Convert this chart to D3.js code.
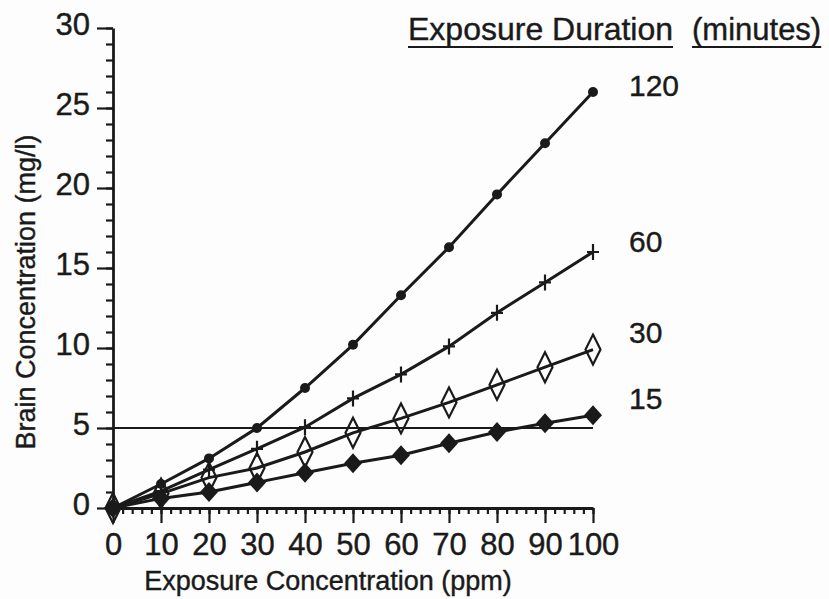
<!DOCTYPE html>
<html>
<head>
<meta charset="utf-8">
<script src="https://cdn.jsdelivr.net/npm/d3@7"></script>
<style>
  body { margin: 0; background: #fdfdfd; }
  svg { display: block; font-family: "Liberation Sans", Arial, Helvetica, sans-serif; }
  svg text { stroke: #1a1a1a; stroke-width: 0.4px; }
  .axis path, .axis line { stroke: #1a1a1a; }
  .axis text { fill: #1a1a1a; }
</style>
</head>
<body>
<div id="chart"></div>
<script>
// exposure concentration (ppm)
var concentrations = [0, 10, 20, 30, 40, 50, 60, 70, 80, 90, 100];
// exposure durations (minutes)
var durations = ["120", "60", "30", "15"];
// brain concentration (mg/l) per duration
var brain120 = [0, 1.5, 3.1, 5.0, 7.5, 10.2, 13.3, 16.3, 19.6, 22.8, 26.0];
var brain60 = [0, 1.05, 2.4, 3.7, 5.05, 6.85, 8.35, 10.1, 12.2, 14.1, 16.0];
var brain30 = [0, 0.9, 1.9, 2.5, 3.5, 4.7, 5.6, 6.6, 7.7, 8.8, 9.9];
var brain15 = [0, 0.6, 1.0, 1.6, 2.2, 2.8, 3.3, 4.05, 4.75, 5.3, 5.8];
var threshold = 5;
var xTicks = [0, 10, 20, 30, 40, 50, 60, 70, 80, 90, 100];
var yTicks = [0, 5, 10, 15, 20, 25, 30];

var width = 829, height = 599;
var ink = "#1a1a1a";

var svg = d3.select("#chart").append("svg")
	.attr("width", width)
	.attr("height", height);

var x = d3.scaleLinear().domain([0, 100]).range([113, 593]);
var y = d3.scaleLinear().domain([0, 30]).range([508, 28]);

// minor ticks first
svg.append("g")
	.attr("class", "axis")
	.attr("transform", "translate(0," + y(0) + ")")
	.call(d3.axisBottom(x).tickValues(d3.range(0, 101, 2)).tickSize(6).tickSizeOuter(0).tickFormat(""))
	.call(g => g.select(".domain").remove())
	.call(g => g.selectAll("line").attr("stroke-width", 2.2));

svg.append("g")
	.attr("class", "axis")
	.attr("transform", "translate(" + x(0) + ",0)")
	.call(d3.axisLeft(y).tickValues(d3.range(0, 31, 1)).tickSize(7).tickSizeOuter(0).tickFormat(""))
	.call(g => g.select(".domain").remove())
	.call(g => g.selectAll("line").attr("stroke-width", 2.2));

// major ticks with labels
var xAxis = svg.append("g")
	.attr("class", "axis")
	.attr("transform", "translate(0," + y(0) + ")")
	.call(d3.axisBottom(x).tickValues(xTicks).tickSize(15).tickSizeOuter(0).tickPadding(10));
xAxis.select(".domain").attr("stroke-width", 2.8);
xAxis.selectAll("line").attr("stroke-width", 2.2);
xAxis.selectAll("text").attr("font-size", 31);
xAxis.attr("font-family", null);

var yAxis = svg.append("g")
	.attr("class", "axis")
	.attr("transform", "translate(" + x(0) + ",0)")
	.call(d3.axisLeft(y).tickValues(yTicks).tickSize(16).tickSizeOuter(0).tickPadding(7));
yAxis.select(".domain").attr("stroke-width", 2.8);
yAxis.selectAll("line").attr("stroke-width", 2.2);
yAxis.selectAll("text").attr("font-size", 31).attr("dy", "0.22em");
yAxis.attr("font-family", null);

// axis titles
svg.append("text")
	.attr("x", 328)
	.attr("y", 590)
	.attr("text-anchor", "middle")
	.attr("font-size", 27)
	.attr("fill", ink)
	.text("Exposure Concentration (ppm)");

svg.append("text")
	.attr("transform", "translate(35,292) rotate(-90)")
	.attr("text-anchor", "middle")
	.attr("font-size", 27)
	.attr("fill", ink)
	.text("Brain Concentration (mg/l)");

// 5 mg/l reference line
svg.append("line")
	.attr("x1", x(0))
	.attr("x2", x(100))
	.attr("y1", y(threshold))
	.attr("y2", y(threshold))
	.attr("stroke", ink)
	.attr("stroke-width", 2.2);

var series = [
	{ name: durations[0], values: brain120, marker: "dot", dy: 4 },
	{ name: durations[1], values: brain60, marker: "plus", dy: 0 },
	{ name: durations[2], values: brain30, marker: "open", dy: -7 },
	{ name: durations[3], values: brain15, marker: "filled", dy: -6 }
];

var line = d3.line()
	.x((d, i) => x(concentrations[i]))
	.y(d => y(d));

series.forEach(function(s) {
	svg.append("path")
		.datum(s.values)
		.attr("fill", "none")
		.attr("stroke", ink)
		.attr("stroke-width", 3)
		.attr("d", line);

	var pts = svg.append("g").selectAll("g")
		.data(s.values)
		.join("g")
		.attr("transform", (d, i) => `translate(${x(concentrations[i])},${y(d)})`);

	if (s.marker === "dot") {
		pts.append("circle").attr("r", 5).attr("fill", ink);
	} else if (s.marker === "plus") {
		pts.append("path")
			.attr("d", "M-6,0H6M0,-8V8")
			.attr("stroke", ink)
			.attr("stroke-width", 2.2);
	} else if (s.marker === "open") {
		// hollow, the line shows through
		pts.append("path")
			.attr("d", "M0,-15L7.5,0L0,15L-7.5,0Z")
			.attr("fill", "none")
			.attr("stroke", ink)
			.attr("stroke-width", 2.2);
	} else {
		pts.append("path")
			.attr("d", "M0,-10L9,0L0,10L-9,0Z")
			.attr("fill", ink);
	}

	svg.append("text")
		.attr("x", x(100) + 36)
		.attr("y", y(s.values[s.values.length - 1]) + s.dy)
		.attr("font-size", 30)
		.attr("fill", ink)
		.text(s.name);
});

// legend title
var legend = svg.append("g").attr("fill", ink).attr("font-size", 32);
var t1 = legend.append("text").attr("x", 408).attr("y", 40).text("Exposure Duration");
var t2 = legend.append("text").attr("x", 692).attr("y", 40).attr("font-size", 31).text("(minutes)");
[t1, t2].forEach(function(t) {
	var bb = t.node().getBBox();
	legend.append("line")
		.attr("x1", bb.x)
		.attr("x2", bb.x + bb.width)
		.attr("y1", 47)
		.attr("y2", 47)
		.attr("stroke", ink)
		.attr("stroke-width", 2);
});
</script>
</body>
</html>
